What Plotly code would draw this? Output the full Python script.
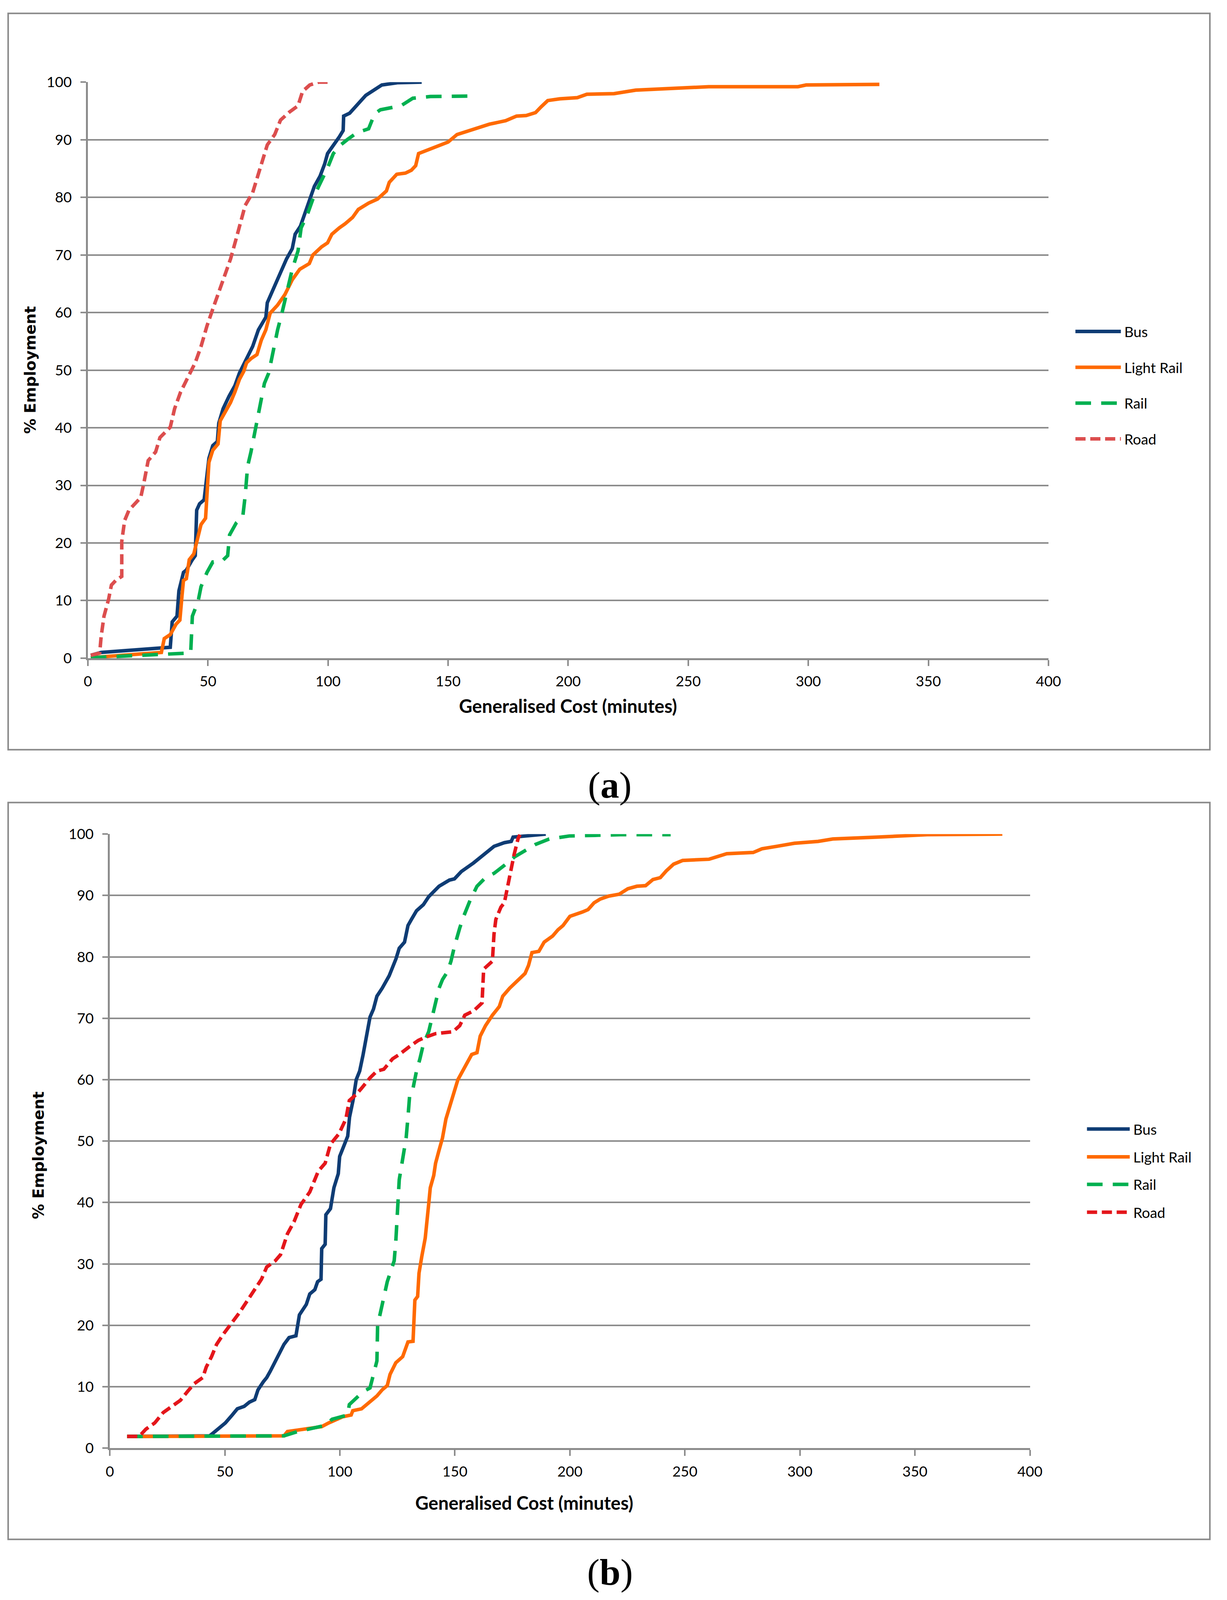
import plotly.graph_objects as go

W, H = 3141, 4373

# ---------------- Panel (a) data ----------------
a_bus_x = [1.2, 5.5, 34.3, 35.1, 37.1, 37.9, 39.8, 41.0, 43.5, 44.7, 45.3, 46.5, 48.4, 49.3, 50.4, 52.0, 53.9, 54.5,
           56.3, 58.8, 61.2, 63.1, 66.1, 68.6, 71.0, 74.1, 74.7, 77.1, 80.2, 82.7, 85.1, 86.3, 88.5, 91.2, 94.3, 96.7,
           98.6, 99.8, 103.0, 104.7, 106.3, 106.5, 109.0, 112.0, 115.7, 122.4, 129.0, 139.0]
a_bus_y = [0.5, 1.0, 1.9, 6.3, 7.3, 11.7, 14.9, 15.3, 17.1, 17.8, 25.7, 26.8, 27.5, 30.4, 34.7, 36.9, 37.6, 40.8,
           43.3, 45.5, 47.3, 49.5, 52.0, 54.1, 57.0, 59.2, 61.7, 63.9, 66.7, 69.3, 71.1, 73.6, 75.0, 78.3, 81.9, 83.7,
           85.8, 87.6, 89.4, 90.5, 91.6, 94.1, 94.6, 95.9, 97.7, 99.5, 99.9, 100.0]

a_lrail_x = [1.2, 8.0, 30.6, 31.8, 34.3, 36.7, 38.3, 39.2, 39.8, 41.0, 42.2, 44.1, 45.3, 47.1, 49.0, 49.6, 50.4, 52.0,
             54.2, 55.1, 57.5, 59.4, 61.2, 63.1, 64.9, 66.1, 67.9, 70.4, 72.2, 74.1, 75.9, 79.0, 82.0, 85.1, 88.2,
             92.2, 93.7, 97.3, 99.8, 101.6, 104.7, 107.1, 110.2, 112.6, 116.9, 120.6, 124.3, 125.5, 128.6, 132.2,
             134.7, 136.5, 137.7, 142.6, 146.3, 150.0, 153.7, 158.6, 167.2, 174.0, 178.5, 182.5, 186.4, 188.7, 191.5,
             196.5, 203.8, 207.8, 219.1, 228.1, 241.6, 258.5, 295.7, 299.1, 329.6]
a_lrail_y = [0.1, 0.3, 1.0, 3.4, 4.1, 5.9, 6.6, 10.9, 13.5, 13.8, 17.1, 18.1, 20.3, 23.2, 24.3, 28.6, 34.0, 36.1,
             37.2, 41.2, 43.0, 44.4, 46.2, 48.4, 49.8, 51.3, 52.0, 52.7, 55.2, 57.0, 59.9, 61.3, 63.1, 65.7, 67.5,
             68.5, 70.0, 71.4, 72.1, 73.6, 74.7, 75.4, 76.5, 77.9, 79.0, 79.7, 81.1, 82.6, 84.0, 84.2,
             84.7, 85.5, 87.6, 88.4, 89.1, 89.6, 90.9, 91.6, 92.7, 93.3, 94.1, 94.2, 94.7, 95.7, 96.8,
             97.1, 97.3, 97.9, 98.0, 98.6, 98.9, 99.2, 99.2, 99.5, 99.6]

a_rail_x = [1.2, 38.6, 42.8, 43.5, 45.9, 47.1, 49.6, 52.0, 55.7, 58.2, 59.0, 61.8, 64.5, 65.5, 66.5, 67.9, 69.8, 71.6,
            73.5, 75.3, 77.1, 79.0, 80.8, 82.7, 85.1, 87.5, 88.8, 91.2, 93.7, 96.1, 99.8, 102.2, 105.3, 108.3, 112.0,
            116.9, 119.4, 121.8, 130.4, 135.3, 142.6, 162.2]
a_rail_y = [0.1, 0.7, 0.9, 7.3, 9.9, 12.4, 14.9, 16.7, 16.8, 17.8, 21.4, 23.5, 24.6, 28.2, 33.3, 35.8, 39.7, 44.1,
            47.7, 49.5, 53.4, 57.0, 59.9, 63.1, 67.5, 70.7, 74.7, 76.8, 79.7, 81.9, 85.1, 87.6, 89.1, 90.1, 91.2,
            91.9, 94.5, 95.2, 95.9, 97.2, 97.5, 97.6]

a_road_x = [1.2, 4.9, 5.5, 6.7, 8.6, 9.8, 11.6, 14.1, 14.1, 15.3, 17.1, 22.0, 23.3, 25.1, 28.2, 30.0, 34.3, 36.1,
            38.6, 42.3, 44.7, 47.1, 49.6, 52.0, 55.7, 59.4, 61.8, 63.1, 65.5, 68.6, 71.6, 74.7, 77.8, 80.2, 83.9,
            87.5, 89.4, 92.4, 96.1, 101.0]
a_road_y = [0.5, 0.9, 3.7, 7.3, 10.2, 12.7, 13.5, 14.2, 20.3, 23.9, 25.7, 27.9, 30.4, 34.3, 35.8, 38.3, 40.1, 43.3,
            46.2, 49.5, 51.3, 54.1, 57.7, 60.6, 64.9, 69.3, 72.9, 75.0, 78.6, 80.8, 85.1, 89.1, 90.9, 93.4, 94.8,
            95.9, 98.4, 99.5, 100.0, 100.0]

# ---------------- Panel (b) data ----------------
b_bus_x = [7.5, 43.4, 45.7, 50.2, 53.2, 55.4, 58.4, 60.7, 63.0, 64.4, 66.7, 68.2, 69.7, 71.2, 73.4, 75.7, 77.9, 80.9,
           82.4, 85.4, 86.9, 89.1, 90.3, 91.8, 92.1, 93.6, 93.9, 95.9, 97.4, 99.3, 99.9, 101.9, 103.4, 104.2, 105.7,
           107.1, 108.6, 110.1, 111.6, 113.1, 114.6, 116.1, 118.4, 121.4, 124.4, 125.8, 128.1, 129.6, 131.1, 133.3,
           136.3, 138.6, 143.1, 147.6, 149.8, 152.8, 158.1, 162.5, 167.0, 171.5, 174.5, 175.3, 182.0, 189.5]
b_bus_y = [1.9, 2.0, 2.7, 4.1, 5.4, 6.4, 6.8, 7.5, 7.9, 9.5, 10.8, 11.5, 12.5, 13.6, 14.9, 16.9, 18.0, 18.3,
           21.7, 23.4, 25.1, 25.8, 27.1, 27.5, 32.5, 33.2, 38.0, 39.0, 42.4, 44.7, 47.5, 49.5, 50.8, 53.9, 56.6,
           60.0, 61.4, 64.1, 67.5, 70.2, 71.5, 73.6, 74.9, 76.9, 79.7, 81.4, 82.4, 85.1, 86.1, 87.5,
           88.5, 89.8, 91.5, 92.5, 92.7, 93.9, 95.3, 96.6, 98.0, 98.6, 98.8, 99.5, 99.7, 100.0]

b_lrail_x = [7.5, 75.7, 77.2, 84.6, 87.6, 92.1, 95.1, 97.4, 101.1, 104.9, 105.6, 109.4, 111.6, 113.9, 116.1, 118.4,
             120.6, 121.8, 124.3, 127.3, 129.6, 131.8, 132.6, 133.8, 134.4, 135.6, 137.1, 138.6, 139.3, 140.8, 141.6,
             143.1, 144.6, 146.1, 147.6, 149.1, 151.3, 154.3, 157.3, 159.6, 161.0, 163.3, 166.3, 169.3, 170.8, 173.8,
             176.8, 180.5, 182.0, 183.5, 186.5, 188.8, 192.5, 194.8, 197.0, 200.0, 205.4, 207.9, 210.5, 213.1, 216.9,
             221.4, 225.2, 229.1, 232.9, 236.1, 239.3, 241.9, 245.1, 249.0, 260.5, 265.6, 268.2, 279.7, 283.5, 289.9,
             297.6, 307.9, 314.3, 333.5, 355.3, 388.0]
b_lrail_y = [1.9, 2.0, 2.7, 3.1, 3.4, 3.5, 4.1, 4.5, 5.1, 5.4, 6.1, 6.4, 7.1, 7.8, 8.5, 9.5,
             10.2, 12.0, 13.9, 14.9, 17.3, 17.4, 24.1, 24.7, 28.5, 31.2, 34.2, 39.7, 42.4, 44.4, 46.4,
             48.5, 50.5, 53.6, 55.3, 57.3, 60.0, 62.0, 64.1, 64.4, 67.1, 68.8, 70.5, 71.9, 73.6, 74.9,
             75.9, 77.3, 78.6, 80.7, 80.9, 82.4, 83.4, 84.4, 85.1, 86.6, 87.3, 87.7, 88.8, 89.4, 89.9,
             90.2, 91.1, 91.5, 91.6, 92.6, 92.9, 94.0, 95.1, 95.7, 95.9, 96.5, 96.8, 97.0, 97.6, 98.0,
             98.5, 98.8, 99.2, 99.5, 99.9, 100.0]

b_rail_x = [7.5, 75.7, 81.6, 86.1, 90.6, 93.6, 96.6, 101.1, 103.4, 104.1, 107.1, 110.1, 113.1, 114.6, 116.1, 116.4,
            117.6, 119.1, 120.6, 122.1, 123.6, 124.3, 125.1, 125.8, 127.3, 128.8, 129.6, 130.3, 131.8, 133.3, 134.8,
            136.3, 138.6, 140.1, 141.6, 143.1, 144.6, 146.8, 148.3, 149.8, 152.1, 153.6, 156.6, 159.6, 163.3, 167.0,
            171.5, 176.0, 180.5, 185.0, 191.0, 200.0, 212.0, 222.0, 243.8]
b_rail_y = [1.9, 2.0, 2.7, 3.1, 3.4, 3.7, 4.7, 5.1, 5.4, 7.1, 8.1, 9.2, 9.8, 11.9, 14.2, 20.0,
            22.0, 24.7, 27.1, 28.8, 30.5, 33.6, 38.3, 43.7, 47.1, 50.5, 53.9, 57.3, 58.6, 61.4, 63.4,
            65.8, 67.8, 70.2, 72.2, 74.9, 76.3, 77.6, 79.3, 81.7, 84.7, 86.4, 89.2, 91.5, 92.9, 93.6,
            94.9, 96.3, 97.3, 98.3, 99.2, 99.7, 99.8, 99.9, 99.9]

b_road_x = [7.5, 12.7, 15.7, 19.5, 23.2, 27.0, 30.7, 33.7, 36.7, 40.4, 41.9, 44.2, 46.4, 49.4, 52.4, 56.2, 59.2, 62.9,
            65.9, 68.2, 71.9, 74.2, 77.2, 80.1, 83.1, 86.9, 90.6, 93.6, 95.9, 99.6, 102.6, 104.1, 107.1, 109.4, 113.1,
            116.1, 119.1, 122.9, 125.8, 130.3, 134.1, 137.1, 141.6, 149.1, 152.1, 154.3, 158.1, 161.8, 162.5, 166.3,
            167.0, 167.8, 170.0, 171.5, 173.8, 175.7, 177.5, 178.3]
b_road_y = [1.9, 1.9, 3.1, 4.1, 5.8, 6.8, 7.8, 9.2, 10.5, 11.5, 13.2, 14.9, 16.9, 18.6, 20.0, 22.0, 23.7, 25.8,
            27.5, 29.5, 30.5, 31.5, 34.9, 36.9, 39.7, 41.7, 45.1, 46.4, 49.5, 51.2, 53.6, 56.6, 57.6, 58.6, 60.3,
            61.4, 61.7, 63.4, 64.1, 65.4, 66.4, 66.9, 67.5, 67.8, 68.8, 70.5, 71.2, 72.5, 78.0, 79.3,
            83.7, 86.1, 88.1, 88.8, 93.2, 96.6, 99.3, 99.9]

series_names = ["Bus", "Light Rail", "Rail", "Road"]
x_ticks = [0, 50, 100, 150, 200, 250, 300, 350, 400]
y_ticks = [0, 10, 20, 30, 40, 50, 60, 70, 80, 90, 100]
x_title = "Generalised Cost (minutes)"
y_title = "% Employment"
panel_labels = ["a", "b"]

# ---------------- styles ----------------
BUS_C = "#0f3c74"
LR_C = "#ff6a00"
RAIL_C = "#00b050"
ROAD_A_C = "#dc4e4e"
ROAD_B_C = "#e4161b"
LW = 9
RAIL_DASH = "40px,26px"
ROAD_DASH = "26px,12px"
GRID_C = "#8c8c8c"
TICK_FONT = dict(family="Lato", size=37, color="#000000")


def px_x(p):
    return p / W


def px_y(p):
    return 1 - p / H


fig = go.Figure()

panels = [
    dict(xa="x", ya="y",
         data=[(a_bus_x, a_bus_y), (a_lrail_x, a_lrail_y), (a_rail_x, a_rail_y), (a_road_x, a_road_y)],
         road_c=ROAD_A_C,
         xdom=[px_x(217), px_x(2710)], ydom=[px_y(1793), px_y(201)]),
    dict(xa="x2", ya="y2",
         data=[(b_bus_x, b_bus_y), (b_lrail_x, b_lrail_y), (b_rail_x, b_rail_y), (b_road_x, b_road_y)],
         road_c=ROAD_B_C,
         xdom=[px_x(274), px_x(2662)], ydom=[px_y(3976), px_y(2279)]),
]

for pnl in panels:
    colors = [BUS_C, LR_C, RAIL_C, pnl["road_c"]]
    dashes = ["solid", "solid", RAIL_DASH, ROAD_DASH]
    for (xs, ys), name, c, d in zip(pnl["data"], series_names, colors, dashes):
        fig.add_trace(go.Scatter(x=xs, y=ys, mode="lines", name=name, showlegend=False,
                                 line=dict(color=c, width=LW, dash=d),
                                 xaxis=pnl["xa"], yaxis=pnl["ya"]))

axis_common_x = dict(range=[0, 400], tickvals=x_ticks, ticks="outside", ticklen=15, tickwidth=4,
                     tickcolor=GRID_C, showline=True, linecolor=GRID_C, linewidth=5, showgrid=False,
                     zeroline=False, tickfont=TICK_FONT, ticklabelstandoff=8, fixedrange=True)
axis_common_y = dict(range=[0, 100], tickvals=y_ticks, ticks="outside", ticklen=14, tickwidth=4,
                     tickcolor=GRID_C, showline=True, linecolor=GRID_C, linewidth=5, showgrid=True,
                     gridcolor=GRID_C, gridwidth=4, zeroline=False, tickfont=TICK_FONT,
                     ticklabelstandoff=15, fixedrange=True)

fig.update_layout(
    autosize=True,
    margin=dict(l=0, r=0, t=0, b=0),
    paper_bgcolor="white", plot_bgcolor="white",
    xaxis=dict(domain=panels[0]["xdom"], anchor="y", **axis_common_x),
    yaxis=dict(domain=panels[0]["ydom"], anchor="x", **axis_common_y),
    xaxis2=dict(domain=panels[1]["xdom"], anchor="y2", **axis_common_x),
    yaxis2=dict(domain=panels[1]["ydom"], anchor="x2", **axis_common_y),
)

shapes = []
annotations = []

# panel frames
for (y0, y1) in [(11, 2046), (2192, 4228)]:
    shapes.append(dict(type="rect", xref="paper", yref="paper",
                       x0=px_x(10), x1=px_x(3129), y0=px_y(y1), y1=px_y(y0),
                       line=dict(color="#8a8a8a", width=4), fillcolor="rgba(0,0,0,0)", layer="below"))

# manual legends
legend_specs = [
    dict(x0=2780, x1=2898, tx=2905, ys=[890, 989, 1088, 1187], road_c=ROAD_A_C),
    dict(x0=2810, x1=2921, tx=2928, ys=[3094, 3171, 3247, 3324], road_c=ROAD_B_C),
]
for spec in legend_specs:
    colors = [BUS_C, LR_C, RAIL_C, spec["road_c"]]
    dashes = ["solid", "solid", RAIL_DASH, ROAD_DASH]
    for name, c, d, yy in zip(series_names, colors, dashes, spec["ys"]):
        shapes.append(dict(type="line", xref="paper", yref="paper",
                           x0=px_x(spec["x0"]), x1=px_x(spec["x1"]), y0=px_y(yy), y1=px_y(yy),
                           line=dict(color=c, width=LW, dash=d)))
        annotations.append(dict(text=name, xref="paper", yref="paper", x=px_x(spec["tx"]), y=px_y(yy),
                                xanchor="left", yanchor="middle", showarrow=False,
                                font=dict(family="Lato", size=37, color="#000000")))

# axis titles, placed relative to each plot area with pixel offsets
# (x-domain fraction, pixel shift below the x axis)
x_title_specs = [("x", "y", 0.5, -122), ("x2", "y2", (1349 - 274) / (2662 - 274), -140)]
for xa, ya, fx, shift in x_title_specs:
    annotations.append(dict(text="<b>" + x_title + "</b>", xref=xa + " domain", yref=ya + " domain",
                            x=fx, y=0, yshift=shift, xanchor="center", yanchor="middle", showarrow=False,
                            font=dict(family="Lato", size=47, color="#000000")))
y_title_specs = [("x", "y", 0.5, -147), ("x2", "y2", (3976 - 3167) / (3976 - 2279), -182)]
for xa, ya, fy, shift in y_title_specs:
    annotations.append(dict(text="<b>" + y_title + "</b>", xref=xa + " domain", yref=ya + " domain",
                            x=0, y=fy, xshift=shift, xanchor="center", yanchor="middle", showarrow=False,
                            textangle=-90,
                            font=dict(family="DejaVu Sans", size=39, color="#000000")))

# panel labels
for lab, yy in zip(panel_labels, [2143, 4319]):
    annotations.append(dict(text="(<b>" + lab + "</b>)", xref="paper", yref="paper",
                            x=px_x(1572), y=px_y(yy), xanchor="center", yanchor="middle", showarrow=False,
                            font=dict(family="Liberation Serif", size=96, color="#000000")))

fig.update_layout(shapes=shapes, annotations=annotations)

post = ("document.body.style.margin='0';"
        "document.documentElement.style.overflow='hidden';"
        "document.body.style.overflow='hidden';"
        "var gd=document.getElementById('{plot_id}');"
        "if(window.Plotly&&gd){Plotly.Plots.resize(gd);}")

fig.write_html("out.html", default_width="100vw", default_height="100vh", post_script=post,
               config={"displayModeBar": False})
